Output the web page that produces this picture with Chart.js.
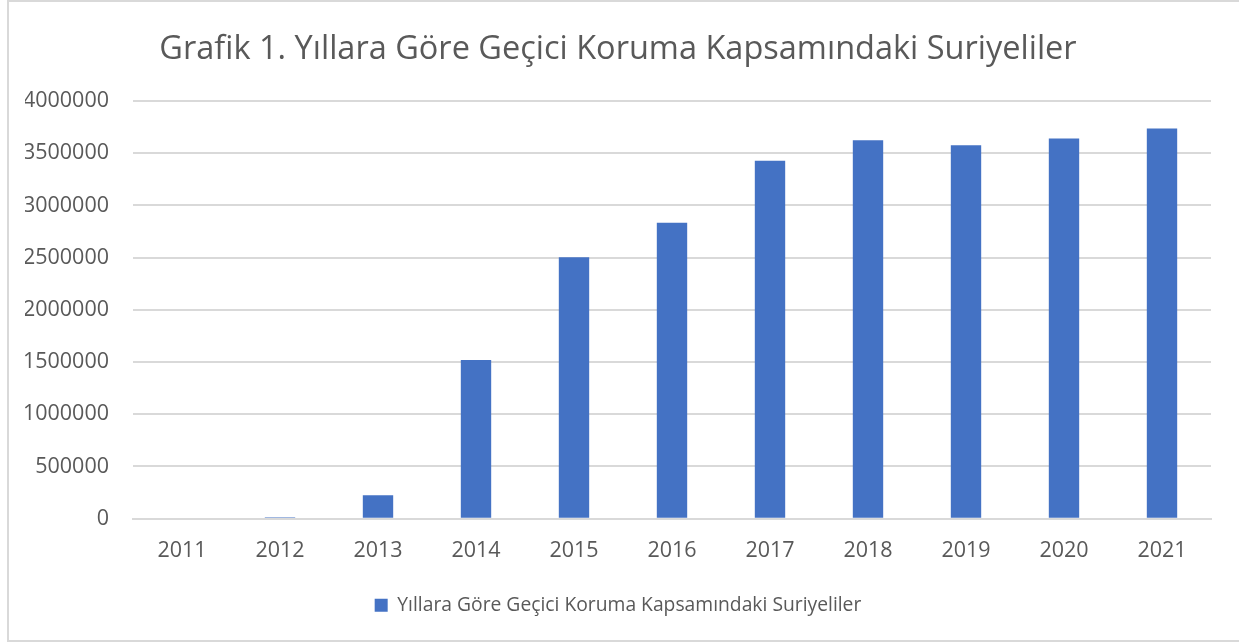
<!DOCTYPE html>
<html lang="tr">
<head>
  <meta charset="UTF-8">
  <title>Grafik 1</title>
  <script src="https://cdn.jsdelivr.net/npm/chart.js"></script>
  <style>
    html, body { margin: 0; padding: 0; background: #fff; }
    #wrap { width: 1239px; height: 642px; position: relative; }
  </style>
</head>
<body>
<div id="wrap"><canvas id="grafik"></canvas></div>

<script>
  // Veriler
  const yillar = ['2011', '2012', '2013', '2014', '2015', '2016', '2017', '2018', '2019', '2020', '2021'];
  const suriyeliler = [0, 14237, 224655, 1519286, 2503549, 2834441, 3426786, 3623192, 3576370, 3641370, 3737369];
  const baslik = 'Grafik 1. Yıllara Göre Geçici Koruma Kapsamındaki Suriyeliler';
  const seriAdi = 'Yıllara Göre Geçici Koruma Kapsamındaki Suriyeliler';

  const yaziRengi = '#595959';
  const cizgiRengi = '#d9d9d9';

  // Arka plan ve çerçeve
  const cerceve = {
    id: 'cerceve',
    beforeDraw(chart) {
      const ctx = chart.ctx;
      ctx.save();
      ctx.fillStyle = '#fff';
      ctx.fillRect(0, 0, chart.width, chart.height);
      ctx.strokeStyle = cizgiRengi;
      ctx.lineWidth = 2;
      ctx.strokeRect(8, 1, chart.width + 10, chart.height - 2);
      ctx.restore();
    }
  };

  new Chart(document.getElementById('grafik').getContext('2d'), {
    type: 'bar',
    data: {
      labels: yillar,
      datasets: [{
        label: seriAdi,
        data: suriyeliler,
        backgroundColor: '#4472C4',
        borderWidth: 0,
        barPercentage: 0.31,
        categoryPercentage: 1.0
      }]
    },
    options: {
      responsive: true,
      maintainAspectRatio: false,
      animation: false,
      layout: { padding: { left: 25, right: 28, top: 0, bottom: 17 } },
      plugins: {
        title: {
          display: true,
          text: baslik,
          color: yaziRengi,
          font: { family: 'Open Sans', size: 32.5, weight: 'normal' },
          padding: { top: 30, bottom: 32 }
        },
        legend: {
          position: 'bottom',
          labels: {
            color: yaziRengi,
            font: { family: 'Open Sans', size: 19.3 },
            boxWidth: 13,
            boxHeight: 13,
            padding: 14
          }
        },
        tooltip: { enabled: false }
      },
      scales: {
        x: {
          grid: { display: false },
          border: { display: true, color: cizgiRengi, width: 2 },
          ticks: { color: yaziRengi, font: { family: 'Open Sans', size: 21.5 }, padding: 11 },
          afterFit(s) { s.height = 63; }
        },
        y: {
          min: 0,
          max: 4000000,
          ticks: {
            stepSize: 500000,
            color: yaziRengi,
            font: { family: 'Open Sans', size: 21.5 },
            padding: 24,
            callback: (v) => String(v)
          },
          grid: { color: cizgiRengi, lineWidth: 2, drawTicks: false },
          border: { display: false },
          afterFit(s) { s.width = 108; }
        }
      }
    },
    plugins: [cerceve]
  });
</script>
</body>
</html>
